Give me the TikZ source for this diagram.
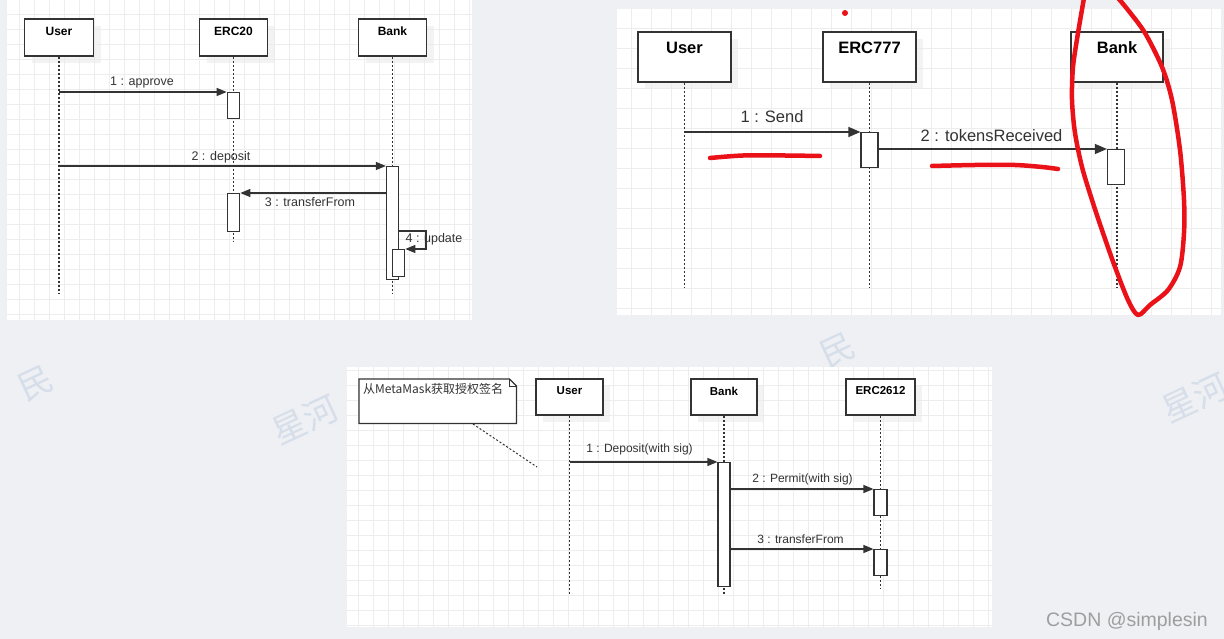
\documentclass[tikz,border=0pt]{standalone}
\usepackage{fontspec}
\setmainfont{Liberation Sans}
\newfontfamily\cjk{Noto Sans CJK SC}
\usetikzlibrary{arrows.meta,shadows}
\definecolor{bgc}{HTML}{EEF0F4}
\definecolor{gridc}{HTML}{EDEDED}
\definecolor{inkc}{HTML}{333333}
\definecolor{wmc}{HTML}{D6DEEA}
\definecolor{penred}{HTML}{EA1119}
\begin{document}
\begin{tikzpicture}[x=1pt,y=-1pt,
  gridl/.style={draw=gridc,line width=0.8pt},
  actor/.style={draw=inkc,line width=1.3pt,fill=white,inner sep=0pt,
    drop shadow={shadow xshift=7pt,shadow yshift=-7pt,fill=black!8,opacity=0.6}},
  act/.style={draw=inkc,line width=1.2pt,fill=white,inner sep=0pt,anchor=north},
  life/.style={draw=inkc,line width=1.2pt,dash pattern=on 2pt off 2pt},
  titleA/.style={font=\bfseries\fontsize{12}{14}\selectfont,text=black,inner sep=0pt},
  titleB/.style={font=\bfseries\fontsize{16.5}{19}\selectfont,text=black,inner sep=0pt},
  titleC/.style={font=\bfseries\fontsize{11.5}{13}\selectfont,text=black,inner sep=0pt},
  labA/.style={font=\fontsize{12.5}{14}\selectfont,text=inkc,inner sep=0pt},
  labB/.style={font=\fontsize{16.5}{19}\selectfont,text=inkc,inner sep=0pt},
  labC/.style={font=\fontsize{12}{14}\selectfont,text=inkc,inner sep=0pt},
  msgA/.style={draw=inkc,line width=1.2pt,-{Triangle[length=10pt,width=8pt]}},
  msgB/.style={draw=inkc,line width=1.2pt,-{Triangle[length=12pt,width=10pt]}},
  wm/.style={font=\cjk\fontsize{34}{36}\selectfont,text=wmc,rotate=25,inner sep=0pt},
  redpen/.style={draw=penred,line width=4.5pt,line cap=round,line join=round}
]
\useasboundingbox (0,0) rectangle (1224,639);
\fill[bgc] (0,0) rectangle (1224,639);

% watermarks
\node[wm] (w1) at (36,383) {民};
\node[wm] (w2) at (305,420) {星河};
\node[wm] (w3) at (838,350) {民};
\node[wm] (w4) at (1195,398) {星河};
\node[font=\fontsize{19.5}{22}\selectfont,text=black!38,inner sep=0pt] (w5) at (1127,621) {CSDN @simplesin};

% ================= Panel 1 =================
\fill[white] (7,0) rectangle (472,320);
\foreach \gx in {19.3,34.3,...,472} \draw[gridl] (\gx,0) -- (\gx,320);
\foreach \gy in {14.3,29.3,...,320} \draw[gridl] (7,\gy) -- (472,\gy);
\node[actor,minimum width=69pt,minimum height=37pt] (p1u) at (59,37.5) {};
\node[actor,minimum width=68pt,minimum height=37pt] (p1e) at (233.5,37.5) {};
\node[actor,minimum width=68pt,minimum height=37pt] (p1b) at (392.5,37.5) {};
\node[titleA] (p1ut) at (59,31) {User};
\node[titleA] (p1et) at (233.5,31) {ERC20};
\node[titleA] (p1bt) at (392.5,31) {Bank};
\coordinate (p1ue) at (59,293);
\coordinate (p1ee) at (233.5,241);
\coordinate (p1be) at (392.5,293);
\draw[life] (p1u.south) -- (p1ue);
\draw[life] (p1e.south) -- (p1ee);
\draw[life] (p1b.south) -- (p1be);
\node[act,minimum width=12.5pt,minimum height=26pt] (p1a1) at (233.5,92) {};
\node[act,minimum width=12pt,minimum height=113pt] (p1a2) at (392.5,166) {};
\node[act,minimum width=12.5pt,minimum height=38pt] (p1a3) at (233.5,193) {};
\node[act,minimum width=12.5pt,minimum height=27pt] (p1a4) at (398.5,249) {};
\draw[msgA] (p1u.south |- p1a1.north) -- (p1a1.north west);
\node[labA] (p1l1) at (142,82) {1 : approve};
\draw[msgA] (p1u.south |- p1a2.north) -- (p1a2.north west);
\node[labA] (p1l2) at (221,157) {2 : deposit};
\draw[msgA] (p1a2.west |- p1a3.north) -- (p1a3.north east);
\node[labA] (p1l3) at (310,202) {3 : transferFrom};
\coordinate (p1s) at (426,231);
\draw[msgA] (p1a2.east |- p1s) -- (p1s) |- (p1a4.north east);
\node[labA] (p1l4) at (434,239) {4 : update};

% ================= Panel 2 =================
\fill[white] (617,9) rectangle (1221,315);
\foreach \gx in {631.7,651.7,...,1221} \draw[gridl] (\gx,9) -- (\gx,315);
\foreach \gy in {28.3,48.3,...,315} \draw[gridl] (617,\gy) -- (1221,\gy);
\node[actor,minimum width=93pt,minimum height=50pt] (p2u) at (684.5,57) {};
\node[actor,minimum width=93pt,minimum height=50pt] (p2e) at (869.5,57) {};
\node[actor,minimum width=92pt,minimum height=50pt] (p2b) at (1117,57) {};
\node[titleB] (p2ut) at (684.5,48) {User};
\node[titleB] (p2et) at (869.5,48) {ERC777};
\node[titleB] (p2bt) at (1117,48) {Bank};
\coordinate (p2ue) at (684.5,287);
\coordinate (p2ee) at (869.5,287);
\coordinate (p2be) at (1117,287);
\draw[life] (p2u.south) -- (p2ue);
\draw[life] (p2e.south) -- (p2ee);
\draw[life] (p2b.south) -- (p2be);
\node[act,minimum width=17pt,minimum height=35pt] (p2a1) at (869.5,132) {};
\node[act,minimum width=17pt,minimum height=35pt] (p2a2) at (1116,149) {};
\draw[msgB] (p2u.south |- p2a1.north) -- (p2a1.north west);
\node[labB] (p2l1) at (772,117) {1 : Send};
\draw[msgB] (p2a1.east |- p2a2.north) -- (p2a2.north west);
\node[labB] (p2l2) at (991.5,136) {2 : tokensReceived};

% ================= Panel 3 =================
\fill[white] (347,367) rectangle (992,627);
\foreach \gx in {358.3,373.3,...,992} \draw[gridl] (\gx,367) -- (\gx,627);
\foreach \gy in {370,385,...,627} \draw[gridl] (347,\gy) -- (992,\gy);
\node[inner sep=0pt,minimum width=157pt,minimum height=44pt,anchor=north west] (p3n) at (359,379) {};
\draw[draw=inkc,line width=1.2pt,fill=white]
  (p3n.north west) -- ([xshift=-7pt]p3n.north east) -- ([yshift=-7pt]p3n.north east)
  -- (p3n.south east) -- (p3n.south west) -- cycle;
\draw[draw=inkc,line width=1pt] ([xshift=-7pt]p3n.north east) -- ([xshift=-7pt,yshift=-7pt]p3n.north east) -- ([yshift=-7pt]p3n.north east);
\node[font=\cjk\fontsize{12}{14}\selectfont,text=inkc,inner sep=0pt,anchor=west] (p3nt) at (363,389) {从MetaMask获取授权签名};
\node[actor,minimum width=67pt,minimum height=36pt] (p3u) at (569.5,397) {};
\node[actor,minimum width=66pt,minimum height=36pt] (p3b) at (724,397) {};
\node[actor,minimum width=69pt,minimum height=36pt] (p3e) at (880.5,397) {};
\node[titleC] (p3ut) at (569.5,391) {User};
\node[titleC] (p3bt) at (724,391) {Bank};
\node[titleC] (p3et) at (880.5,391) {ERC2612};
\coordinate (p3ue) at (569.5,595);
\coordinate (p3be) at (724,595);
\coordinate (p3ee) at (880.5,588);
\draw[life] (p3u.south) -- (p3ue);
\draw[life] (p3b.south) -- (p3be);
\draw[life] (p3e.south) -- (p3ee);
\coordinate (p3n1) at (473,424);
\coordinate (p3n2) at (537,467);
\draw[life,line width=1pt] (p3n1) -- (p3n2);
\node[act,minimum width=12pt,minimum height=124pt] (p3a1) at (724,462) {};
\node[act,minimum width=13pt,minimum height=26pt] (p3a2) at (880.5,489) {};
\node[act,minimum width=13pt,minimum height=26pt] (p3a3) at (880.5,549) {};
\draw[msgA] (p3u.south |- p3a1.north) -- (p3a1.north west);
\node[labC] (p3l1) at (639.5,449) {1 : Deposit(with sig)};
\draw[msgA] (p3a1.east |- p3a2.north) -- (p3a2.north west);
\node[labC] (p3l2) at (802.5,479) {2 : Permit(with sig)};
\draw[msgA] (p3a1.east |- p3a3.north) -- (p3a3.north west);
\node[labC] (p3l3) at (800.5,539) {3 : transferFrom};

% ================= red pen marks =================
\fill[penred] (845,13) circle (3pt);
\draw[redpen] plot[smooth] coordinates {(710,158) (743,155.5) (785,155.5) (820,156)};
\draw[redpen] plot[smooth] coordinates {(932,166) (975,165) (1015,165) (1042,167) (1058,169)};
\draw[redpen] plot[smooth] coordinates {
  (1084,-2) (1078,33) (1073,67) (1072,100) (1075,133) (1082,167) (1092,200)
  (1103,233) (1115,267) (1128,300) (1138,315) (1150,305) (1168,290) (1180,267)
  (1184,233) (1184,200) (1180,150) (1172,100) (1162,67) (1145,33) (1128,10) (1118,-2)};
\end{tikzpicture}
\end{document}
